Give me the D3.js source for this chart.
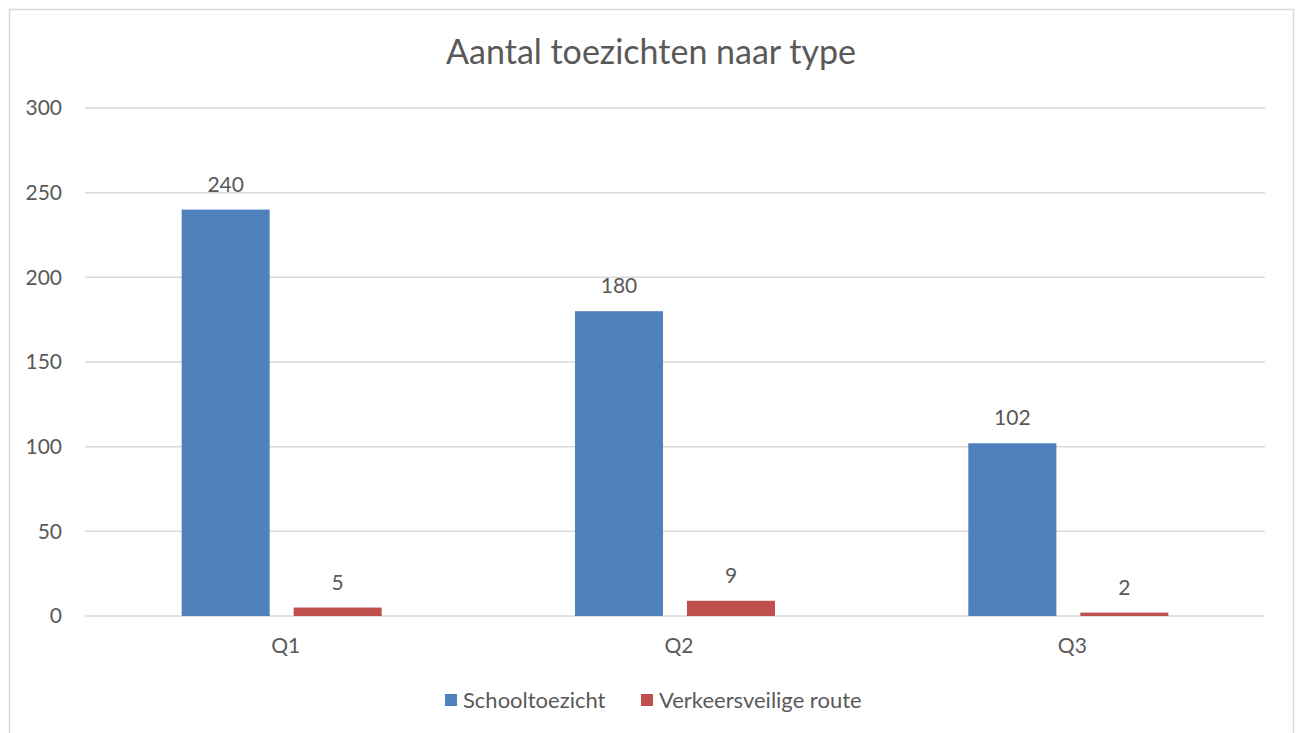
<!DOCTYPE html>
<html><head><meta charset="utf-8">
<script src="https://cdn.jsdelivr.net/npm/d3@7"></script>
<style>body{margin:0;background:#fff;} svg{display:block;} text{font-family:Lato,"Open Sans",sans-serif;fill:#595959;}</style>
</head><body><svg id="c" width="1300" height="733"></svg>
<script>
const categories = ["Q1","Q2","Q3"];
const seriesNames = ["Schooltoezicht","Verkeersveilige route"];
const schooltoezicht = [240,180,102];
const verkeersveilig = [5,9,2];
const yTicks = [0,50,100,150,200,250,300];
const colors = ["#4F81BD","#C0504D"];
const FONT = "Lato,'Open Sans',sans-serif";

const svg = d3.select("#c");
svg.append("rect").attr("x",9.5).attr("y",9.5).attr("width",1284).attr("height",740)
  .attr("fill","#fff").attr("stroke","#D9D9D9").attr("stroke-width",1.5);

const m = {left:85,right:1265,top:108,bottom:616};
const x = d3.scaleBand().domain(categories).range([m.left,m.right]);
const xs = d3.scaleBand().domain(seriesNames).range([0,x.bandwidth()]).paddingInner(0.214).paddingOuter(0.863);
const y = d3.scaleLinear().domain([0,300]).range([m.bottom,m.top]);

const g = svg.append("g");
g.selectAll("line.grid").data(yTicks).join("line")
  .attr("x1",m.left).attr("x2",m.right).attr("y1",d=>y(d)).attr("y2",d=>y(d))
  .attr("stroke","#D9D9D9").attr("stroke-width",1.5);

const yAxis = d3.axisLeft(y).tickValues(yTicks).tickSize(0).tickPadding(23);
const ya = svg.append("g").attr("transform",`translate(${m.left},0)`).call(yAxis);
ya.select(".domain").remove();
ya.selectAll("text").style("font-size","21px").attr("fill","#595959").style("font-family",FONT);

const xAxis = d3.axisBottom(x).tickSize(0).tickPadding(22);
const xa = svg.append("g").attr("transform",`translate(4,${m.bottom})`).call(xAxis);
xa.select(".domain").remove();
xa.selectAll("text").style("font-size","21px").attr("fill","#595959").style("font-family",FONT);

const data = categories.map((c,i)=>({c, vals:[schooltoezicht[i],verkeersveilig[i]]}));
const grp = g.selectAll("g.cat").data(data).join("g").attr("transform",d=>`translate(${x(d.c)},0)`);
grp.selectAll("rect").data(d=>d.vals.map((v,j)=>({v,s:seriesNames[j],j}))).join("rect")
  .attr("x",d=>xs(d.s)).attr("width",xs.bandwidth())
  .attr("y",d=>y(d.v)).attr("height",d=>y(0)-y(d.v)).attr("fill",d=>colors[d.j]);
grp.selectAll("text").data(d=>d.vals.map((v,j)=>({v,s:seriesNames[j],j}))).join("text")
  .attr("x",d=>xs(d.s)+xs.bandwidth()/2).attr("y",d=>y(d.v)-18)
  .attr("text-anchor","middle").style("font-size","21px").text(d=>d.v);

svg.append("text").attr("x",651).attr("y",64).attr("text-anchor","middle")
  .style("font-size","34px").text("Aantal toezichten naar type");

const leg = svg.append("g");
const legX = [445,641];
seriesNames.forEach((s,i)=>{
  leg.append("rect").attr("x",legX[i]).attr("y",694).attr("width",12).attr("height",12).attr("fill",colors[i]);
  leg.append("text").attr("x",legX[i]+18).attr("y",708).style("font-size","22px").text(s);
});
</script></body></html>
